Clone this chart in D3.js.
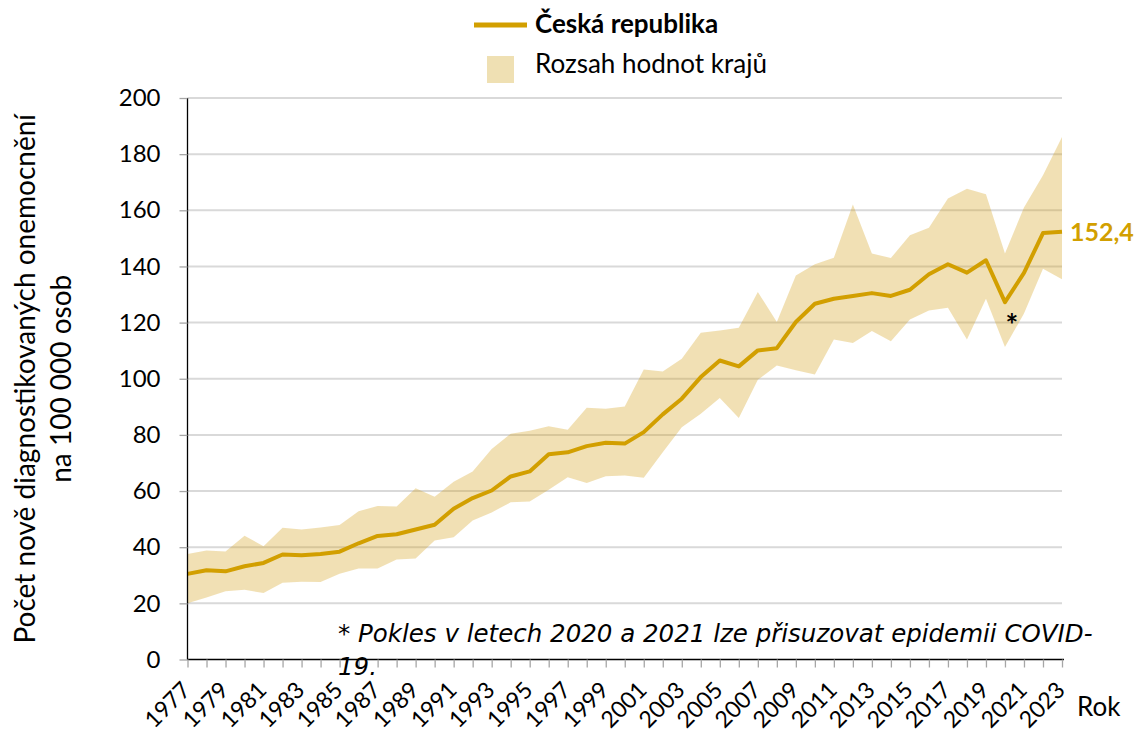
<!DOCTYPE html>
<html><head><meta charset="utf-8">
<script src="https://cdn.jsdelivr.net/npm/d3@7"></script>
<style>body{margin:0;background:#fff}svg text{font-family:Lato,"Open Sans",sans-serif}</style>
</head><body><svg id="c" width="1138" height="735"></svg>
<script>
const years = d3.range(1977, 2024);
const czValues = [30.5,31.8,31.4,33.2,34.4,37.4,37.1,37.6,38.4,41.4,44.0,44.6,46.3,48.0,53.7,57.5,60.2,65.2,67.0,73.1,73.8,76.0,77.2,76.9,81.0,87.3,92.9,100.6,106.5,104.4,110.1,110.9,120.2,126.7,128.5,129.5,130.5,129.5,131.7,137.2,140.8,137.8,142.2,127.3,137.7,151.9,152.4];
const regionMax = [37.6,38.8,38.5,44.1,40.3,46.9,46.3,47.0,47.9,52.8,54.7,54.5,61.0,58.0,63.3,67.0,75.0,80.4,81.5,83.1,81.8,89.7,89.3,90.1,103.3,102.6,107.1,116.4,117.2,118.2,130.9,120.2,136.8,140.8,143.1,162.1,144.6,143.0,151.1,153.8,164.2,167.7,165.7,144.6,161.0,172.5,186.1];
const regionMin = [20.0,22.1,24.3,24.8,23.7,27.3,27.7,27.6,30.5,32.4,32.4,35.6,36.0,42.4,43.5,49.5,52.4,56.0,56.3,60.5,64.9,62.9,65.3,65.5,64.7,73.8,82.7,87.5,93.1,86.0,99.6,104.7,103.0,101.5,114.0,112.7,117.0,113.4,121.1,124.3,125.3,114.0,128.5,111.3,123.2,139.2,135.4];
const yTicks = [0,20,40,60,80,100,120,140,160,180,200];
const xTickLabels = years.filter(y => y % 2 === 1);
const seriesNames = ["Česká republika","Rozsah hodnot krajů"];
const lastLabel = "152,4";
const yTitle = ["Počet nově diagnostikovaných onemocnění","na 100 000 osob"];
const xTitle = "Rok";
const footnote = ["* Pokles v letech 2020 a 2021 lze přisuzovat epidemii COVID-","19."];

const lineColor = "#D29F00", bandColor = "#EFE0B3";
const svg = d3.select("#c");
const L = 187.5, R = 1062, T = 98, B = 659.5;
const x = d3.scalePoint().domain(years).range([L, R]);
const y = d3.scaleLinear().domain([0,200]).range([B, T]);

// gridlines
svg.append("g").selectAll("line").data(yTicks.filter(d=>d>0)).join("line")
  .attr("x1", L).attr("x2", R).attr("y1", d=>y(d)).attr("y2", d=>y(d))
  .attr("stroke", "#d9d9d9").attr("stroke-width", 2);

// band
const data = years.map((yr,i)=>({yr, v:czValues[i], lo:regionMin[i], hi:regionMax[i]}));
svg.append("path").datum(data)
  .attr("d", d3.area().x(d=>x(d.yr)).y0(d=>y(d.lo)).y1(d=>y(d.hi)))
  .attr("fill", "#D4A017").attr("fill-opacity", 0.32);

// line
svg.append("path").datum(data)
  .attr("d", d3.line().x(d=>x(d.yr)).y(d=>y(d.v)))
  .attr("fill","none").attr("stroke", lineColor).attr("stroke-width", 4).attr("stroke-linejoin","round");

// y axis
const yAxis = svg.append("g").attr("transform", `translate(${L},0)`)
  .call(d3.axisLeft(y).tickValues(yTicks).tickSize(8).tickPadding(19));
yAxis.select(".domain").attr("stroke","#000").attr("stroke-width",1.3).attr("d", `M0,${B}V${T}`);
yAxis.selectAll(".tick line").attr("stroke","#a6a6a6").attr("stroke-width",1.3);
yAxis.selectAll(".tick text").attr("font-size", 24).attr("fill","#000").style("font-family","Lato,sans-serif");

// x axis
const xAxis = svg.append("g").attr("transform", `translate(0,${B})`)
  .call(d3.axisBottom(x).tickValues(years).tickSize(8).tickFormat(d => xTickLabels.includes(d) ? d : ""));
xAxis.select(".domain").attr("stroke","#000").attr("stroke-width",1.3).attr("d", `M${L},0H${R+2}`);
xAxis.selectAll(".tick line").attr("stroke","#a6a6a6").attr("stroke-width",1.3);
xAxis.selectAll(".tick text").attr("font-size", 23).attr("fill","#000")
  .attr("text-anchor","end").attr("dy",0).attr("y",0)
  .attr("transform","translate(4,32) rotate(-45)").style("font-family","Lato,sans-serif");

// titles
const yt = svg.append("text").attr("transform", `translate(0,${(T+B)/2}) rotate(-90)`)
  .attr("text-anchor","middle").attr("font-size",28).attr("fill","#000");
yt.append("tspan").attr("x",0).attr("y",35).text(yTitle[0]);
yt.append("tspan").attr("x",0).attr("y",71).text(yTitle[1]);
svg.append("text").attr("x",1077).attr("y",716).attr("font-size",26).attr("fill","#000").text(xTitle);

// last value label
svg.append("text").attr("x", x(2023)+8).attr("y", y(czValues[czValues.length-1])+9)
  .attr("font-size",25).attr("font-weight","bold").attr("fill",lineColor).text(lastLabel);

// asterisk at 2020
svg.append("text").attr("x", x(2020)+7).attr("y", y(czValues[43])+34)
  .attr("text-anchor","middle")
  .attr("font-size",30).attr("font-weight","bold").attr("fill","#000").text("*");

// footnote
const fn = svg.append("text").attr("font-size",24.5).attr("font-style","italic").attr("fill","#000")
  .style("font-family","'DejaVu Sans',sans-serif");
fn.append("tspan").attr("x",338).attr("y",642).text(footnote[0]);
fn.append("tspan").attr("x",338).attr("y",675).text(footnote[1]);

// legend
svg.append("line").attr("x1",474).attr("x2",527).attr("y1",25).attr("y2",25)
  .attr("stroke",lineColor).attr("stroke-width",5);
svg.append("text").attr("x",535).attr("y",33).attr("font-size",26).attr("font-weight","bold").attr("fill","#000").text(seriesNames[0]);
svg.append("rect").attr("x",487).attr("y",56).attr("width",27).attr("height",27).attr("fill",bandColor);
svg.append("text").attr("x",535).attr("y",73).attr("font-size",26).attr("fill","#000").text(seriesNames[1]);
</script></body></html>
